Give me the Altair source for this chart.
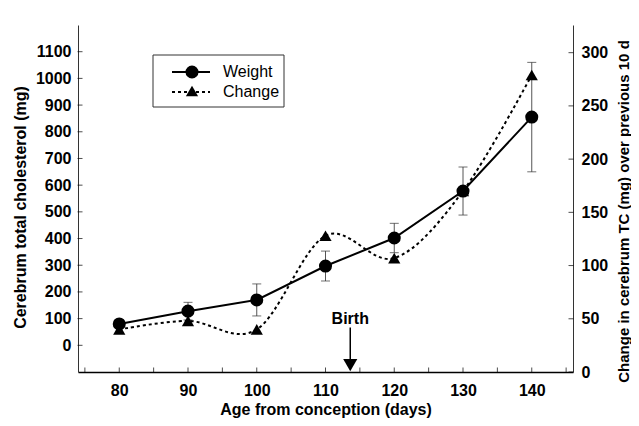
import altair as alt
import pandas as pd

# ---- data ----
days = [80, 90, 100, 110, 120, 130, 140]
weight = [80, 128, 170, 297, 402, 578, 855]          # cerebrum total cholesterol (mg)
weight_err = [8, 33, 60, 56, 55, 90, 205]
change = [40, 48, 40, 128, 107, 170, 279]             # change over previous 10 d (mg)
birth_day = [113.6]
x_tick_values = [80, 90, 100, 110, 120, 130, 140]
x_minor_ticks = [75, 80, 85, 90, 95, 100, 105, 110, 115, 120, 125, 130, 135, 140, 145]
left_ticks = [0, 100, 200, 300, 400, 500, 600, 700, 800, 900, 1000, 1100]
right_ticks = [0, 50, 100, 150, 200, 250, 300]
legend_labels = ["Weight", "Change"]

df = pd.DataFrame({
    "day": days,
    "weight": weight,
    "change": change,
    "lo": [w - e for w, e in zip(weight, weight_err)],
    "hi": [w + e for w, e in zip(weight, weight_err)],
})

W, H = 495, 347
FONT = "Liberation Sans"

xs = alt.Scale(domain=[74, 146], nice=False, zero=False)
yl = alt.Scale(domain=[-100, 1200], nice=False, zero=False)
yr = alt.Scale(domain=[0, 326], nice=False, zero=False)

x_axis = alt.Axis(
    values=x_tick_values, title="Age from conception (days)", ticks=False, format="d",
    domainColor="black", domainWidth=1.5, labelFont=FONT, labelFontSize=16,
    labelFontWeight="bold", labelColor="black", labelPadding=10, grid=False,
    titleFont=FONT, titleFontSize=16, titleFontWeight="bold", titleColor="black",
    titlePadding=3,
)
X = alt.X("day:Q", scale=xs, axis=x_axis)

left_axis = alt.Axis(
    values=left_ticks, title="Cerebrum total cholesterol (mg)", ticks=False, format="d",
    domainColor="#333333", domainWidth=1, labelFont=FONT, labelFontSize=16,
    labelFontWeight="bold", labelColor="black", labelPadding=7, grid=False,
    titleFont=FONT, titleFontSize=16, titleFontWeight="bold", titleColor="black",
    titleAngle=270, titleX=-58, titleY=182, titleAlign="center", titleBaseline="middle",
)
right_axis = alt.Axis(
    orient="right", values=right_ticks, format="d",
    title="Change in cerebrum TC (mg) over previous 10 d", ticks=False,
    domainColor="#333333", domainWidth=1, labelFont=FONT, labelFontSize=16,
    labelFontWeight="bold", labelColor="black", labelPadding=8, grid=False,
    titleFont=FONT, titleFontSize=15, titleFontWeight="bold", titleColor="black",
    titleAngle=270, titleX=50, titleY=186, titleAlign="center", titleBaseline="middle",
)


def YL(field):
    return alt.Y(field, scale=yl, axis=left_axis)


def YR(field):
    return alt.Y(field, scale=yr, axis=right_axis)


base = alt.Chart(df)

# ---- left-scale group (weight) ----
err_rule = base.mark_rule(color="#555555", strokeWidth=1).encode(x=X, y=YL("lo:Q"), y2="hi:Q")
cap_lo = base.mark_tick(color="#333333", size=9, thickness=1, orient="horizontal").encode(
    x=X, y=YL("lo:Q"))
cap_hi = base.mark_tick(color="#333333", size=9, thickness=1, orient="horizontal").encode(
    x=X, y=YL("hi:Q"))
w_line = base.mark_line(color="black", strokeWidth=2).encode(x=X, y=YL("weight:Q"))
w_pts = base.mark_point(shape="circle", filled=True, color="black", size=170, opacity=1).encode(
    x=X, y=YL("weight:Q"))

left_ticks_layer = alt.Chart(pd.DataFrame({"v": left_ticks})).mark_tick(
    color="black", size=5, thickness=1, orient="horizontal").encode(
    x=alt.value(2), y=YL("v:Q"))
x_minor_layer = alt.Chart(pd.DataFrame({"day": x_minor_ticks})).mark_tick(
    color="black", size=5, thickness=1, orient="vertical").encode(
    x=X, y=alt.value(H - 2))

bdf = pd.DataFrame({"day": birth_day, "text_y": [97], "top": [67], "bot": [-55], "tri": [-74]})
birth_text = alt.Chart(bdf).mark_text(
    text="Birth", font=FONT, fontSize=16, fontWeight="bold", color="black", baseline="middle").encode(
    x=X, y=YL("text_y:Q"))
birth_rule = alt.Chart(bdf).mark_rule(color="black", strokeWidth=1.5).encode(
    x=X, y=YL("top:Q"), y2="bot:Q")
birth_tri = alt.Chart(bdf).mark_point(shape="triangle-down", filled=True, color="black",
                                      size=200, opacity=1).encode(x=X, y=YL("tri:Q"))

# ---- legend (drawn by hand) ----
one = pd.DataFrame({"a": [0]})
legend_box = alt.Chart(one).mark_rect(
    fill="white", stroke="#333333", strokeWidth=1).encode(
    x=alt.value(75), x2=alt.value(206), y=alt.value(30), y2=alt.value(82))
leg_line1 = alt.Chart(one).mark_rule(color="black", strokeWidth=2).encode(
    x=alt.value(94), x2=alt.value(132), y=alt.value(47))
leg_pt1 = alt.Chart(one).mark_point(
    shape="circle", filled=True, color="black", size=170, opacity=1).encode(
    x=alt.value(114), y=alt.value(47))
leg_line2 = alt.Chart(one).mark_rule(
    color="black", strokeWidth=2, strokeDash=[3, 3]).encode(
    x=alt.value(94), x2=alt.value(132), y=alt.value(67))
leg_pt2 = alt.Chart(one).mark_point(
    shape="triangle-up", filled=True, color="black", size=150, opacity=1).encode(
    x=alt.value(114), y=alt.value(66))
leg_txt1 = alt.Chart(pd.DataFrame({"t": [legend_labels[0]]})).mark_text(
    font=FONT, fontSize=16, color="black", align="left", baseline="middle").encode(
    text="t:N", x=alt.value(145), y=alt.value(47))
leg_txt2 = alt.Chart(pd.DataFrame({"t": [legend_labels[1]]})).mark_text(
    font=FONT, fontSize=16, color="black", align="left", baseline="middle").encode(
    text="t:N", x=alt.value(145), y=alt.value(67))

left_group = alt.layer(
    err_rule, cap_lo, cap_hi, w_line, w_pts, left_ticks_layer, x_minor_layer,
    birth_text, birth_rule, birth_tri,
    legend_box, leg_line1, leg_pt1, leg_line2, leg_pt2, leg_txt1, leg_txt2,
)

# ---- right-scale group (change) ----
c_line = base.mark_line(color="black", strokeWidth=2, strokeDash=[3, 3],
                        interpolate="cardinal").encode(x=X, y=YR("change:Q"))
c_pts = base.mark_point(shape="triangle-up", filled=True, color="black", size=150, opacity=1).encode(
    x=X, y=YR("change:Q"))
right_ticks_layer = alt.Chart(pd.DataFrame({"v": right_ticks})).mark_tick(
    color="black", size=5, thickness=1, orient="horizontal").encode(
    x=alt.value(W - 2), y=YR("v:Q"))

right_group = alt.layer(c_line, c_pts, right_ticks_layer)

chart = alt.layer(left_group, right_group).resolve_scale(y="independent").properties(
    width=W, height=H,
    autosize=alt.AutoSizeParams(type="none"),
    padding={"left": 70, "top": 17, "right": 58, "bottom": 46},
    background="white",
).configure_view(stroke=None)

chart.save("out.html", embed_options={"renderer": "svg", "actions": False})
